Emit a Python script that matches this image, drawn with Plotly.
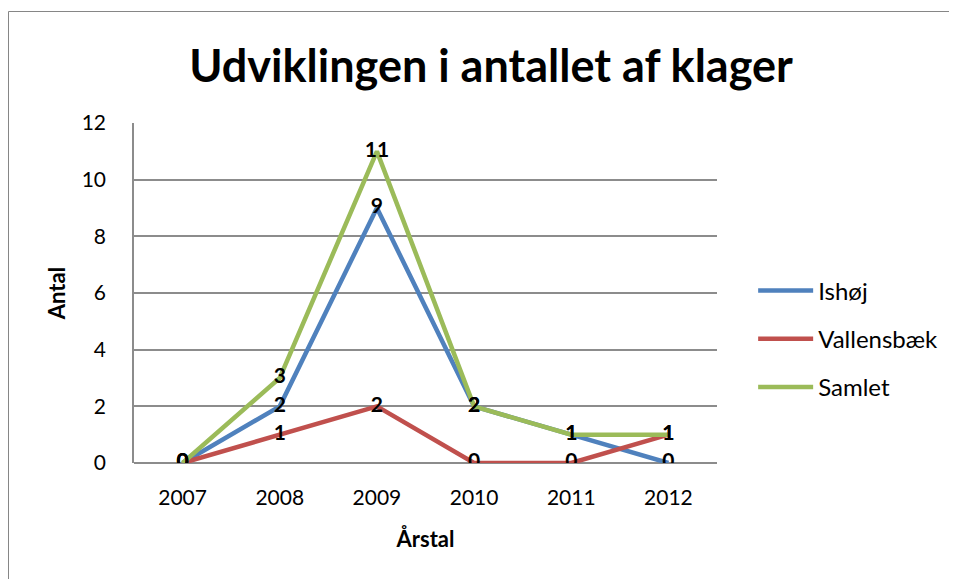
import plotly.graph_objects as go

years = ["2007", "2008", "2009", "2010", "2011", "2012"]
ishoej = [0, 2, 9, 2, 1, 0]
vallensbaek = [0, 1, 2, 0, 0, 1]
samlet = [0, 3, 11, 2, 1, 1]
series_names = ["Ishøj", "Vallensbæk", "Samlet"]
colors = ["#4F81BD", "#C0504D", "#9BBB59"]
y_ticks = [0, 2, 4, 6, 8, 10, 12]

FONT = "Lato, 'Open Sans', sans-serif"
L, T, W, H = 126, 115, 583, 340
fig = go.Figure()
all_series = [ishoej, vallensbaek, samlet]
for name, vals, col in zip(series_names, all_series, colors):
    fig.add_trace(go.Scatter(
        x=years, y=vals, mode="lines", name=name,
        line=dict(color=col, width=4.5),
        legendgroup=name,
    ))
for name, vals in zip(series_names, all_series):
    fig.add_trace(go.Scatter(
        x=years, y=vals, mode="text", text=[str(v) for v in vals],
        textposition="middle center",
        textfont=dict(family=FONT, size=21, color="black", weight="bold"),
        showlegend=False, hoverinfo="skip",
    ))

fig.update_layout(
    width=957, height=579,
    margin=dict(l=L, r=957 - L - W, t=T, b=579 - T - H),
    paper_bgcolor="white", plot_bgcolor="white",
    font=dict(family=FONT, size=21, color="black"),
    title=dict(text="<b>Udviklingen i antallet af klager</b>",
               x=483 / 957, xanchor="center", y=1 - 58 / 579, yanchor="middle",
               font=dict(family=FONT, size=45, color="black")),
    legend=dict(x=1.062, xanchor="left", y=0.365, yanchor="middle",
                font=dict(family=FONT, size=24, color="black"),
                tracegroupgap=14, itemwidth=55, bgcolor="rgba(0,0,0,0)"),
    showlegend=True,
)
fig.update_xaxes(
    type="category", range=[-0.5, 5.5], showgrid=False,
    showline=False, zeroline=False, ticks="",
    title=dict(text="<b>Årstal</b>", font=dict(family=FONT, size=22), standoff=23),
    tickfont=dict(family=FONT, size=21), ticklabelstandoff=20,
)
fig.update_yaxes(
    range=[0, 12], tickvals=y_ticks, showgrid=True, gridcolor="#8C8C8C", gridwidth=1.5,
    zeroline=True, zerolinecolor="#8C8C8C", zerolinewidth=1.5,
    showline=True, linecolor="#8C8C8C", linewidth=1.5, ticks="",
    title=dict(text="<b>Antal</b>", font=dict(family=FONT, size=22), standoff=10),
    tickfont=dict(family=FONT, size=21), ticklabelstandoff=22,
)
fig.add_shape(type="rect", xref="paper", yref="paper",
              x0=(0.5 - L) / W, x1=2.0, y0=-1.0, y1=(T + H - 3.5) / H,
              line=dict(color="#868686", width=1), fillcolor="rgba(0,0,0,0)", layer="below")
fig.write_html("out.html")
